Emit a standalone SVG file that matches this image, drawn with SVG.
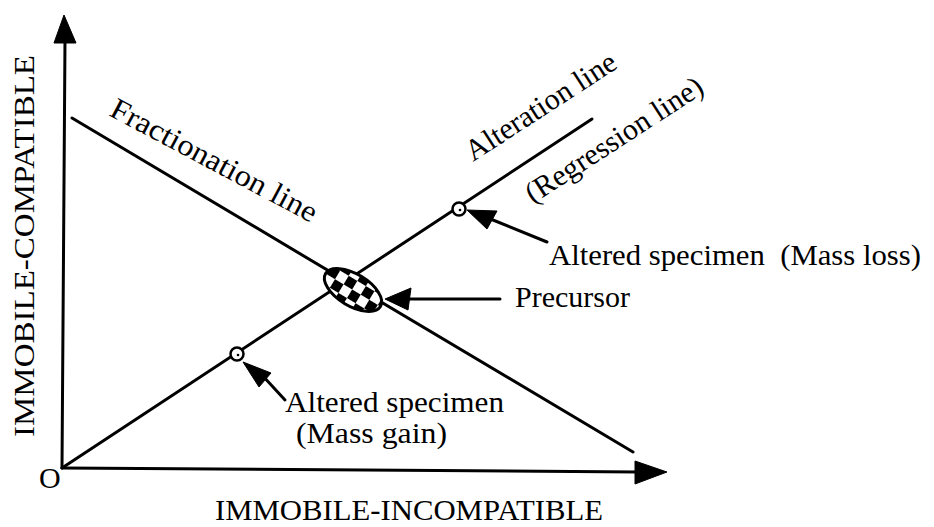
<svg xmlns="http://www.w3.org/2000/svg" width="934" height="527" viewBox="0 0 934 527">
<style>
.ln{stroke:#000;stroke-width:3;fill:none;stroke-linecap:round}
.ah{fill:#000;stroke:#000;stroke-width:1;stroke-linejoin:round}
.t{font-family:"Liberation Serif","Times New Roman",serif;font-size:30px;fill:#000;white-space:pre}
.pt{fill:#fff;stroke:#000;stroke-width:2.5}
</style>
<defs>
<pattern id="chk" patternUnits="userSpaceOnUse" x="342" y="280" width="20" height="20">
<rect x="0" y="0" width="20" height="20" fill="#fff"/>
<rect x="0" y="0" width="10" height="10" fill="#000"/>
<rect x="10" y="10" width="10" height="10" fill="#000"/>
</pattern>
</defs>
<rect width="934" height="527" fill="#fff"/>
<g id="axes">
<line class="ln" x1="62" y1="468" x2="65" y2="40"/>
<polygon class="ah" points="64,15 54,43 76,43"/>
<line class="ln" x1="62" y1="468" x2="638" y2="472"/>
<polygon class="ah" points="667,472 635,461 635,484"/>
<text class="t" x="39" y="488" font-size="28">O</text>
<text class="t" transform="translate(34,437) rotate(-90)" font-size="33" textLength="382" lengthAdjust="spacingAndGlyphs">IMMOBILE-COMPATIBLE</text>
<text class="t" x="215" y="520" textLength="388" lengthAdjust="spacingAndGlyphs">IMMOBILE-INCOMPATIBLE</text>
</g>
<g id="connectors">
<line id="fractionation" class="ln" x1="72" y1="118" x2="633" y2="452"/>
<line id="alteration" class="ln" x1="62" y1="468" x2="592" y2="119"/>
<line class="ln" x1="488" y1="218" x2="547" y2="242"/>
<polygon class="ah" points="467,210 497,211 487,229"/>
<line class="ln" x1="262" y1="375" x2="285" y2="400"/>
<polygon class="ah" points="243,362 271,373 259,387"/>
<line class="ln" x1="408" y1="299" x2="500" y2="299"/>
<polygon class="ah" points="385,299 411,288 408,310"/>
</g>
<g id="fractionation-label">
<text class="t" transform="translate(108,115) rotate(28)" textLength="230" lengthAdjust="spacingAndGlyphs">Fractionation line</text>
</g>
<g id="alteration-label">
<text class="t" transform="translate(473,162) rotate(-33)">Alteration line</text>
<text class="t" transform="translate(533,204) rotate(-33)">(Regression line)</text>
</g>
<g id="precursor">
<ellipse cx="353" cy="290" rx="32" ry="16" transform="rotate(31 353 290)" fill="url(#chk)" stroke="#000" stroke-width="3"/>
<text class="t" x="515" y="307">Precursor</text>
</g>
<g id="specimen-loss">
<circle class="pt" cx="459" cy="209" r="6.5"/>
<circle cx="460" cy="210" r="1.3" fill="#000"/>
<text class="t" x="549" y="265" textLength="372" lengthAdjust="spacingAndGlyphs">Altered specimen  (Mass loss)</text>
</g>
<g id="specimen-gain">
<circle class="pt" cx="237" cy="354" r="6.5"/>
<circle cx="238" cy="355" r="1.3" fill="#000"/>
<text class="t" x="285" y="412" font-size="27" textLength="219" lengthAdjust="spacingAndGlyphs">Altered specimen</text>
<text class="t" x="296" y="443" font-size="27" textLength="151" lengthAdjust="spacingAndGlyphs">(Mass gain)</text>
</g>
</svg>
